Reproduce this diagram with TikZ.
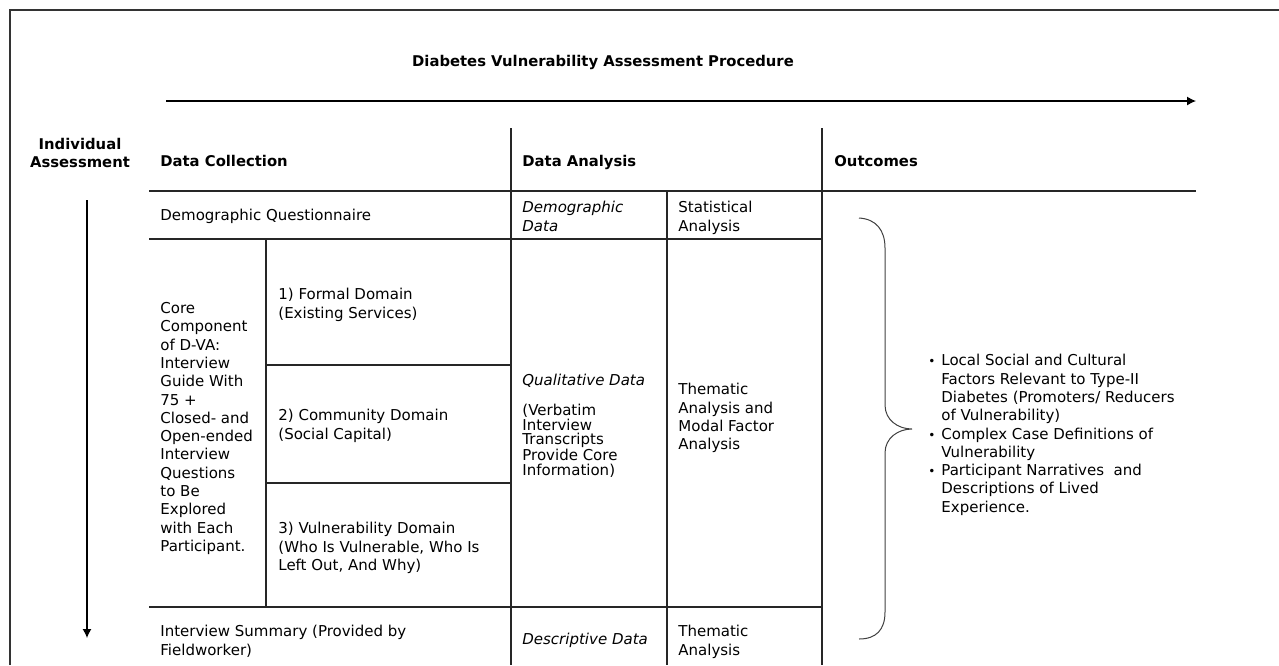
\documentclass[tikz,border=0pt]{standalone}
\usepackage{fontspec}
\setmainfont{DejaVu Sans}
\usetikzlibrary{arrows.meta}
\tikzset{
  txt/.style={anchor=north west, inner sep=0pt, align=left, font=\fontsize{7.5}{9.15}\selectfont},
  itx/.style={txt, font=\itshape\fontsize{7.5}{9.15}\selectfont},
  tight/.style={txt, font=\fontsize{7.5}{7.15}\selectfont},
  hdr/.style={txt, font=\bfseries\fontsize{7.4}{9.15}\selectfont},
  tbl/.style={line width=0.75pt, black!85},
  frameline/.style={line width=1pt, black!80},
  arr/.style={line width=0.6pt, -{Latex[length=4.5pt,width=4.5pt]}},
  bracel/.style={line width=0.5pt, black!75},
}
\begin{document}
\begin{tikzpicture}[x=0.5pt,y=-0.5pt]
\useasboundingbox (0,0) rectangle (1279,665);
% frame
\coordinate (f1) at (10,665);
\coordinate (f2) at (10,10);
\coordinate (f3) at (1279,10);
\draw[frameline] (f1) -- (f2) -- (f3);
% title and process arrow
\node[hdr, anchor=north, align=center] (title) at (603,55) {Diabetes Vulnerability Assessment Procedure};
\coordinate (pa) at (166,101);
\coordinate (pb) at (1196,101);
\draw[arr] (pa) -- (pb);
% individual assessment
\node[hdr, anchor=north, align=center] (indiv) at (80,138) {Individual\\Assessment};
\coordinate (da) at (87,200);
\coordinate (db) at (87,638);
\draw[arr] (da) -- (db);
% table lines
\draw[tbl] (149,191) -- (1196,191);
\draw[tbl] (511,128) -- (511,665);
\draw[tbl] (822,128) -- (822,665);
\draw[tbl] (667,191) -- (667,665);
\draw[tbl] (149,239) -- (822,239);
\draw[tbl] (266,239) -- (266,607);
\draw[tbl] (266,365) -- (511,365);
\draw[tbl] (266,483) -- (511,483);
\draw[tbl] (149,607) -- (822,607);
% headers
\node[hdr] (hcol) at (160,155) {Data Collection};
\node[hdr] (hana) at (522,155) {Data Analysis};
\node[hdr] (hout) at (834,155) {Outcomes};
% row 1
\node[txt] (demq) at (160,209) {Demographic Questionnaire};
\node[itx] (demd) at (522,201) {Demographic\\Data};
\node[txt] (stat) at (678,201) {Statistical\\Analysis};
% core
\node[txt] (core) at (160,302) {Core\\Component\\of D-VA:\\Interview\\Guide With\\75 +\\Closed- and\\Open-ended\\Interview\\Questions\\to Be\\Explored\\with Each\\Participant.};
\node[txt] (dom1) at (278,288) {1) Formal Domain\\(Existing Services)};
\node[txt] (dom2) at (278,409) {2) Community Domain\\(Social Capital)};
\node[txt] (dom3) at (278,522) {3) Vulnerability Domain\\(Who Is Vulnerable, Who Is\\Left Out, And Why)};
\node[itx] (qual) at (522,374) {Qualitative Data};
\node[tight] (verb) at (522,404) {(Verbatim\\Interview\\Transcripts\\Provide Core\\Information)};
\node[txt] (them) at (678,383) {Thematic\\Analysis and\\Modal Factor\\Analysis};
% last row
\node[txt] (summ) at (160,625) {Interview Summary (Provided by\\Fieldworker)};
\node[itx] (desc) at (522,633) {Descriptive Data};
\node[txt] (them2) at (678,625) {Thematic\\Analysis};
% brace
\draw[bracel] (859,218) .. controls (876,219) and (885,230) .. (885,248) -- (885,405)
  .. controls (885,420) and (898,429) .. (912,429)
  .. controls (898,429) and (885,438) .. (885,453) -- (885,612)
  .. controls (885,630) and (876,639) .. (859,639);
% outcomes
\node[txt] (outc) at (941,354) {\llap{{\fontsize{6}{6}\selectfont •}\hspace{3pt}}Local Social and Cultural\\Factors Relevant to Type-II\\Diabetes (Promoters/ Reducers\\of Vulnerability)\\\llap{{\fontsize{6}{6}\selectfont •}\hspace{3pt}}Complex Case Definitions of\\Vulnerability\\\llap{{\fontsize{6}{6}\selectfont •}\hspace{3pt}}Participant Narratives\ \ and\\Descriptions of Lived\\Experience.};
\end{tikzpicture}
\end{document}
